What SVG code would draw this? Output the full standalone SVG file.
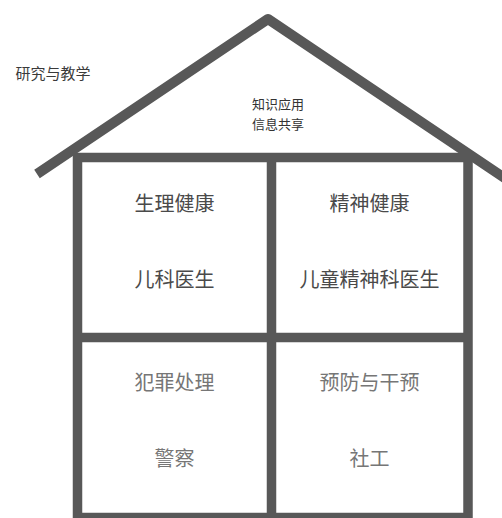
<svg xmlns="http://www.w3.org/2000/svg" width="502" height="518" viewBox="0 0 502 518">
<style>
.frame{fill:none;stroke:#585858;stroke-width:9.5}
.roof{fill:none;stroke:#585858;stroke-width:10;stroke-linejoin:round;stroke-linecap:butt}
text{font-family:"Noto Sans CJK SC","Noto Sans",sans-serif;text-anchor:middle;dominant-baseline:central}
.big{font-size:20px;fill:#4a4a4a}
.big2{font-size:20px;fill:#767676}
.small{font-size:13px;fill:#333}
.side{font-size:15px;fill:#3a3a3a}
</style>
<rect width="502" height="518" fill="#fff"/>
<g id="house">
<polyline class="roof" points="37,174 268,19 515,185"/>
<rect class="frame" x="77.5" y="157.5" width="390.5" height="360"/>
<line class="frame" x1="271.5" y1="157.5" x2="271.5" y2="517.5"/>
<line class="frame" x1="77.5" y1="337.5" x2="468" y2="337.5"/>
</g>
<g id="research"><text class="side" x="53" y="72">研究与教学</text></g>
<g id="roof-label">
<text class="small" x="278" y="103">知识应用</text>
<text class="small" x="278" y="123">信息共享</text>
</g>
<g id="physical">
<text class="big" x="174.5" y="202">生理健康</text>
<text class="big" x="174.5" y="278">儿科医生</text>
</g>
<g id="mental">
<text class="big" x="369.5" y="202">精神健康</text>
<text class="big" x="369.5" y="278">儿童精神科医生</text>
</g>
<g id="crime">
<text class="big2" x="174.5" y="381">犯罪处理</text>
<text class="big2" x="174.5" y="457">警察</text>
</g>
<g id="prevention">
<text class="big2" x="369.5" y="381">预防与干预</text>
<text class="big2" x="369.5" y="457">社工</text>
</g>
<g id="connectors"></g>
</svg>
